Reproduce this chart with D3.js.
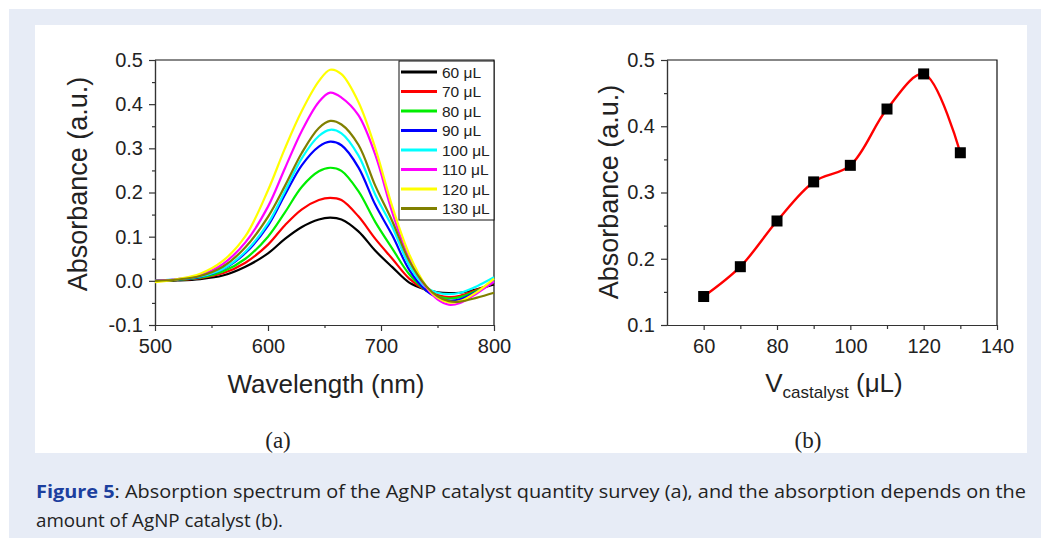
<html>
<head>
<meta charset="utf-8">
<style>
body { margin: 0; background: #fff; }
text { font-family: "Liberation Sans", Arial, sans-serif; fill: #222; }
.axis path, .axis line { stroke: #333; stroke-width: 1.2; }
.axis text { font-family: "Liberation Sans", Arial, sans-serif; fill: #222; }
</style>
</head>
<body>
<script src="https://d3js.org/d3.v7.min.js"></script>
<script>

// panel (a): spectra
var wavelengths = [500, 520, 540, 560, 580, 600, 615, 630, 645, 655, 665, 680, 695, 710, 725, 740, 750, 760, 770, 785, 800];

var abs60  = [0.000, 0.001, 0.004, 0.012, 0.032, 0.062, 0.095, 0.122, 0.139, 0.143, 0.139, 0.112, 0.068, 0.031, -0.004, -0.020, -0.026, -0.028, -0.027, -0.019, -0.008];
var abs70  = [0.000, 0.002, 0.006, 0.017, 0.041, 0.082, 0.126, 0.162, 0.183, 0.188, 0.183, 0.146, 0.095, 0.050, 0.005, -0.022, -0.032, -0.037, -0.034, -0.020, -0.005];
var abs80  = [0.000, 0.002, 0.007, 0.021, 0.050, 0.100, 0.155, 0.213, 0.248, 0.256, 0.249, 0.203, 0.133, 0.073, 0.015, -0.022, -0.035, -0.040, -0.037, -0.022, -0.003];
var abs90  = [0.000, 0.003, 0.009, 0.026, 0.063, 0.125, 0.195, 0.262, 0.304, 0.315, 0.307, 0.257, 0.172, 0.103, 0.025, -0.022, -0.038, -0.045, -0.042, -0.024, -0.003];
var abs100 = [0.000, 0.004, 0.010, 0.027, 0.066, 0.130, 0.203, 0.278, 0.328, 0.342, 0.334, 0.284, 0.195, 0.122, 0.035, -0.015, -0.027, -0.030, -0.027, -0.012, 0.008];
var abs110 = [0.000, 0.004, 0.013, 0.038, 0.087, 0.168, 0.255, 0.340, 0.405, 0.426, 0.415, 0.375, 0.285, 0.155, 0.050, -0.015, -0.042, -0.054, -0.050, -0.028, -0.002];
var abs120 = [-0.003, 0.004, 0.016, 0.045, 0.101, 0.205, 0.300, 0.385, 0.452, 0.478, 0.468, 0.405, 0.300, 0.168, 0.060, -0.012, -0.038, -0.049, -0.046, -0.025, 0.005];
var abs130 = [0.000, 0.003, 0.011, 0.032, 0.076, 0.145, 0.215, 0.290, 0.346, 0.362, 0.354, 0.308, 0.215, 0.135, 0.045, -0.012, -0.035, -0.046, -0.047, -0.038, -0.027];

var seriesNames  = ["60 μL", "70 μL", "80 μL", "90 μL", "100 μL", "110 μL", "120 μL", "130 μL"];
var seriesColors = ["#000000", "#ff0000", "#00ee00", "#0000ff", "#00ffff", "#ff00ff", "#ffff00", "#808000"];
var seriesValues = [abs60, abs70, abs80, abs90, abs100, abs110, abs120, abs130];

var xTicksA = [500, 600, 700, 800];
var xMinorA = [550, 650, 750];
var yTicksA = [-0.1, 0.0, 0.1, 0.2, 0.3, 0.4, 0.5];
var yMinorA = [-0.05, 0.05, 0.15, 0.25, 0.35, 0.45];

// panel (b): peak absorbance vs catalyst volume
var volumes = [60, 70, 80, 90, 100, 110, 120, 130];
var peakAbs = [0.143, 0.188, 0.257, 0.316, 0.341, 0.426, 0.479, 0.360];

var xTicksB = [60, 80, 100, 120, 140];
var xMinorB = [70, 90, 110, 130];
var yTicksB = [0.1, 0.2, 0.3, 0.4, 0.5];
var yMinorB = [0.15, 0.25, 0.35, 0.45];

var width = 1043,
    height = 540;

var svg = d3.select("body").append("svg")
    .attr("width", width)
    .attr("height", height);

// page background + white figure box
svg.append("rect")
    .attr("x", 9).attr("y", 9)
    .attr("width", 1032).attr("height", 529)
    .style("fill", "#e7ecf6");
svg.append("rect")
    .attr("x", 35).attr("y", 25)
    .attr("width", 992).attr("height", 428)
    .style("fill", "#fff");

var fmt = function(d) { return d3.format(".1f")(d).replace("−", "-"); };

// ---------- panel (a) ----------
var xA = d3.scaleLinear().domain([500, 800]).range([155, 494]);
var yA = d3.scaleLinear().domain([-0.1, 0.5]).range([325, 60]);

var gA = svg.append("g");

gA.append("g").attr("class", "axis")
    .attr("transform", "translate(0,325)")
    .call(d3.axisBottom(xA).tickValues(xMinorA).tickFormat("").tickSize(3).tickSizeOuter(0));
gA.append("g").attr("class", "axis")
    .attr("transform", "translate(0,325)")
    .call(d3.axisBottom(xA).tickValues(xTicksA).tickSize(6).tickSizeOuter(0).tickPadding(8))
    .selectAll("text").style("font-size", "20px");

gA.append("g").attr("class", "axis")
    .attr("transform", "translate(155,0)")
    .call(d3.axisLeft(yA).tickValues(yMinorA).tickFormat("").tickSize(3).tickSizeOuter(0));
gA.append("g").attr("class", "axis")
    .attr("transform", "translate(155,0)")
    .call(d3.axisLeft(yA).tickValues(yTicksA).tickFormat(fmt).tickSize(6).tickSizeOuter(0).tickPadding(6))
    .selectAll("text").style("font-size", "20px");

// top and right frame
gA.append("path")
    .attr("d", "M" + xA(500) + "," + yA(0.5) + "H" + xA(800) + "V" + yA(-0.1))
    .style("fill", "none").style("stroke", "#111").style("stroke-width", 1.2);

var lineA = d3.line()
    .x(function(d, i) { return xA(wavelengths[i]); })
    .y(function(d) { return yA(d); })
    .curve(d3.curveCatmullRom.alpha(0.5));

gA.selectAll(".spec")
    .data(seriesValues)
    .enter().append("path")
    .attr("class", "spec")
    .attr("d", lineA)
    .style("fill", "none")
    .style("stroke", function(d, i) { return seriesColors[i]; })
    .style("stroke-width", 2.2);

// legend
var leg = gA.append("g");
leg.append("rect")
    .attr("x", 399).attr("y", yA(0.5) + 1)
    .attr("width", xA(800) - 399).attr("height", 159)
    .style("fill", "#fff").style("stroke", "#111").style("stroke-width", 1);
var rows = leg.selectAll(".row")
    .data(seriesNames)
    .enter().append("g")
    .attr("transform", function(d, i) { return "translate(0," + (72 + i * 19.5) + ")"; });
rows.append("line")
    .attr("x1", 401).attr("x2", 437)
    .style("stroke", function(d, i) { return seriesColors[i]; })
    .style("stroke-width", 3);
rows.append("text")
    .attr("x", 442).attr("dy", "0.36em")
    .style("font-size", "15.5px")
    .text(function(d) { return d; });

gA.append("text")
    .attr("transform", "translate(77,184) rotate(-90)")
    .attr("text-anchor", "middle").attr("dy", "0.36em")
    .style("font-size", "27px")
    .text("Absorbance (a.u.)");
gA.append("text")
    .attr("x", 326).attr("y", 393)
    .attr("text-anchor", "middle")
    .style("font-size", "26px")
    .text("Wavelength (nm)");
gA.append("text")
    .attr("x", 278).attr("y", 448)
    .attr("text-anchor", "middle")
    .style("font-family", "'Liberation Serif', 'Times New Roman', serif")
    .style("font-size", "23px")
    .text("(a)");

// ---------- panel (b) ----------
var xB = d3.scaleLinear().domain([50, 140]).range([667, 997]);
var yB = d3.scaleLinear().domain([0.1, 0.5]).range([325, 60]);

var gB = svg.append("g");

gB.append("g").attr("class", "axis")
    .attr("transform", "translate(0,325)")
    .call(d3.axisBottom(xB).tickValues(xMinorB).tickFormat("").tickSize(4).tickSizeOuter(0));
gB.append("g").attr("class", "axis")
    .attr("transform", "translate(0,325)")
    .call(d3.axisBottom(xB).tickValues(xTicksB).tickSize(5).tickSizeOuter(0).tickPadding(9))
    .selectAll("text").style("font-size", "20px");

gB.append("g").attr("class", "axis")
    .attr("transform", "translate(667,0)")
    .call(d3.axisLeft(yB).tickValues(yMinorB).tickFormat("").tickSize(3).tickSizeOuter(0));
gB.append("g").attr("class", "axis")
    .attr("transform", "translate(667,0)")
    .call(d3.axisLeft(yB).tickValues(yTicksB).tickFormat(fmt).tickSize(6).tickSizeOuter(0).tickPadding(6))
    .selectAll("text").style("font-size", "20px");

gB.append("path")
    .attr("d", "M" + xB(50) + "," + yB(0.5) + "H" + xB(140) + "V" + yB(0.1))
    .style("fill", "none").style("stroke", "#111").style("stroke-width", 1.2);

var lineB = d3.line()
    .x(function(d, i) { return xB(volumes[i]); })
    .y(function(d) { return yB(d); })
    .curve(d3.curveCatmullRom.alpha(0.5));

gB.append("path")
    .datum(peakAbs)
    .attr("d", lineB)
    .style("fill", "none")
    .style("stroke", "#ff0000")
    .style("stroke-width", 2.4);

gB.selectAll(".pt")
    .data(peakAbs)
    .enter().append("rect")
    .attr("class", "pt")
    .attr("x", function(d, i) { return xB(volumes[i]) - 5.5; })
    .attr("y", function(d) { return yB(d) - 5.5; })
    .attr("width", 11).attr("height", 11)
    .style("fill", "#000");

gB.append("text")
    .attr("transform", "translate(608,192) rotate(-90)")
    .attr("text-anchor", "middle").attr("dy", "0.36em")
    .style("font-size", "27px")
    .text("Absorbance (a.u.)");

var xl = gB.append("text")
    .attr("x", 834).attr("y", 392)
    .attr("text-anchor", "middle")
    .style("font-size", "26px");
xl.append("tspan").text("V");
xl.append("tspan").attr("dy", 6).style("font-size", "17px").text("castalyst");
xl.append("tspan").attr("dy", -6).text(" (μL)");

gB.append("text")
    .attr("x", 808).attr("y", 448)
    .attr("text-anchor", "middle")
    .style("font-family", "'Liberation Serif', 'Times New Roman', serif")
    .style("font-size", "23px")
    .text("(b)");

// ---------- caption ----------
var cap1 = svg.append("text")
    .attr("x", 36).attr("y", 498)
    .attr("textLength", 990).attr("lengthAdjust", "spacingAndGlyphs")
    .style("font-family", "'Open Sans', 'Noto Sans', sans-serif")
    .style("font-size", "18.5px");
cap1.append("tspan").style("font-weight", "bold").style("fill", "#1c3f9e").text("Figure 5");
cap1.append("tspan").text(": Absorption spectrum of the AgNP catalyst quantity survey (a), and the absorption depends on the");

svg.append("text")
    .attr("x", 36).attr("y", 527)
    .attr("textLength", 247).attr("lengthAdjust", "spacingAndGlyphs")
    .style("font-family", "'Open Sans', 'Noto Sans', sans-serif")
    .style("font-size", "18.5px")
    .text("amount of AgNP catalyst (b).");

</script>
</body>
</html>
